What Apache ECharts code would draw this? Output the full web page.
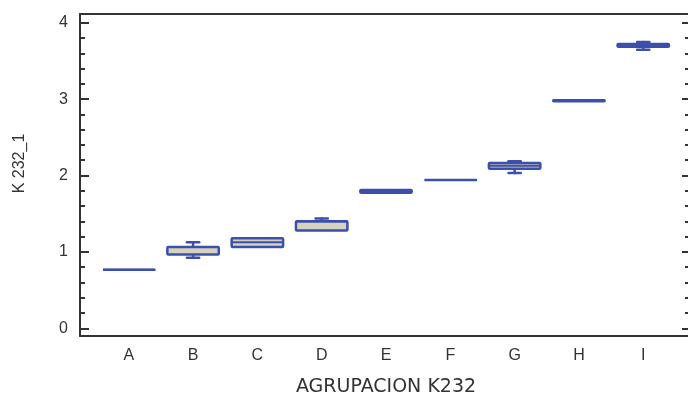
<!DOCTYPE html>
<html>
<head>
<meta charset="utf-8">
<script src="https://cdn.jsdelivr.net/npm/echarts@6/dist/echarts.min.js"></script>
<style>
html,body{margin:0;padding:0;background:#fff;}
#chart{width:688px;height:397px;}
</style>
</head>
<body>
<div id="chart"></div>
<script>
// ---- data ----
const categories = ['A','B','C','D','E','F','G','H','I'];
const mins    = [0.767, 0.923, 1.064, 1.280, 1.775, 1.941, 2.033, 2.972, 3.648];
const q1s     = [0.767, 0.966, 1.064, 1.280, 1.775, 1.941, 2.088, 2.972, 3.685];
const medians = [0.767, 1.064, 1.126, 1.398, 1.795, 1.941, 2.128, 2.978, 3.704];
const q3s     = [0.767, 1.064, 1.180, 1.402, 1.812, 1.941, 2.165, 2.985, 3.721];
const maxs    = [0.767, 1.127, 1.180, 1.437, 1.812, 1.941, 2.187, 2.985, 3.748];
const yTickMin = 0, yTickMax = 4, yTickStep = 1, yMinorSplit = 5;
const yMin = -0.1, yMax = 4.115;

const BLUE = '#3c4fab';
const FILL = '#d5d3bd';
const INK = '#333333';

const boxData = categories.map((c, i) => [i, mins[i], q1s[i], medians[i], q3s[i], maxs[i]]);

function renderItem(params, api) {
  const i = api.value(0);
  const pMin = api.coord([i, api.value(1)]);
  const pQ1 = api.coord([i, api.value(2)]);
  const pMed = api.coord([i, api.value(3)]);
  const pQ3 = api.coord([i, api.value(4)]);
  const pMax = api.coord([i, api.value(5)]);
  const band = api.size([1, 0])[0];
  const w = band * 0.80;
  const capW = band * 0.19;
  const cx = pMed[0];
  const lw = 2.5;
  const ls = {stroke: BLUE, lineWidth: lw, lineCap: 'round'};
  const children = [];
  if (pQ3[1] - pMax[1] > 0.5) {
    children.push({type:'line', shape:{x1:cx, y1:pMax[1], x2:cx, y2:pQ3[1]}, style: ls});
    children.push({type:'line', shape:{x1:cx-capW/2, y1:pMax[1], x2:cx+capW/2, y2:pMax[1]}, style: ls});
  }
  if (pMin[1] - pQ1[1] > 0.5) {
    children.push({type:'line', shape:{x1:cx, y1:pQ1[1], x2:cx, y2:pMin[1]}, style: ls});
    children.push({type:'line', shape:{x1:cx-capW/2, y1:pMin[1], x2:cx+capW/2, y2:pMin[1]}, style: ls});
  }
  children.push({type:'rect', shape:{x:cx-w/2, y:pQ3[1], width:w, height:Math.max(0, pQ1[1]-pQ3[1]), r: 1},
    style:{fill: FILL, stroke: BLUE, lineWidth: lw, lineJoin:'round'}});
  children.push({type:'line', shape:{x1:cx-w/2, y1:pMed[1], x2:cx+w/2, y2:pMed[1]}, style:{stroke: BLUE, lineWidth: 2}});
  return {type:'group', children};
}

const chart = echarts.init(document.getElementById('chart'), null, {renderer:'canvas'});
const font = 'Liberation Sans';
const hiddenAxisParts = {
  axisLabel:{show:false}, axisTick:{show:false}, splitLine:{show:false}
};
function dummyX(grid, pos, line) {
  return Object.assign({gridIndex: grid, type:'value', min:0, max:1, position: pos,
    axisLine:{show: line, onZero:false, lineStyle:{color: INK, width: 2}}}, hiddenAxisParts);
}
function tickY(pos, majorLen, minorLen, extra) {
  return Object.assign({
    gridIndex: 2, type:'value', min: yTickMin, max: yTickMax, interval: yTickStep, position: pos,
    axisLine:{show:false},
    axisTick:{show:true, inside:true, length: majorLen, lineStyle:{color: INK, width: 2}},
    minorTick:{show:true, splitNumber: yMinorSplit, length: minorLen, lineStyle:{color: INK, width: 2}},
    axisLabel:{show:false}, splitLine:{show:false}, minorSplitLine:{show:false}
  }, extra || {});
}
const gridBase = {outerBoundsMode: 'none', containLabel: false};
chart.setOption({
  animation: false,
  backgroundColor: '#ffffff',
  grid: [
    Object.assign({left: 96.6, right: 12.6, top: 14, bottom: 61}, gridBase),
    Object.assign({left: 80, right: 0, top: 14, bottom: 61}, gridBase),
    Object.assign({left: 80, right: 0, top: 22.7, bottom: 68.7}, gridBase)
  ],
  xAxis: [
    {
      gridIndex: 0, type: 'category', data: categories,
      axisLine:{show:false}, axisTick:{show:false}, splitLine:{show:false},
      axisLabel:{color: INK, fontSize: 16, fontFamily: font, margin: 12},
      name: 'AGRUPACION K232', nameLocation: 'middle', nameGap: 42,
      nameTextStyle:{color: INK, fontSize: 19, fontFamily: 'DejaVu Sans'}
    },
    dummyX(1, 'bottom', true),
    dummyX(1, 'top', true),
    dummyX(2, 'bottom', false)
  ],
  yAxis: [
    {gridIndex: 0, type:'value', min: yMin, max: yMax, show: false},
    Object.assign({gridIndex: 1, type:'value', min: 0, max: 1, position:'left',
      axisLine:{show:true, onZero:false, lineStyle:{color: INK, width: 2}}}, hiddenAxisParts),
    tickY('left', 9, 5, {
      axisLabel:{show:true, color: INK, fontSize: 16, fontFamily: font, margin: 12},
      name: 'K 232_1', nameLocation:'middle', nameRotate: 90, nameGap: 52,
      nameTextStyle:{color: INK, fontSize: 16, fontFamily: font, padding:[0,0,0,24]}
    }),
    tickY('right', 6, 3)
  ],
  series: [{
    type: 'custom',
    xAxisIndex: 0, yAxisIndex: 0,
    renderItem: renderItem,
    encode: {x: 0, y: [1,2,3,4,5]},
    data: boxData
  }]
});
</script>
</body>
</html>
